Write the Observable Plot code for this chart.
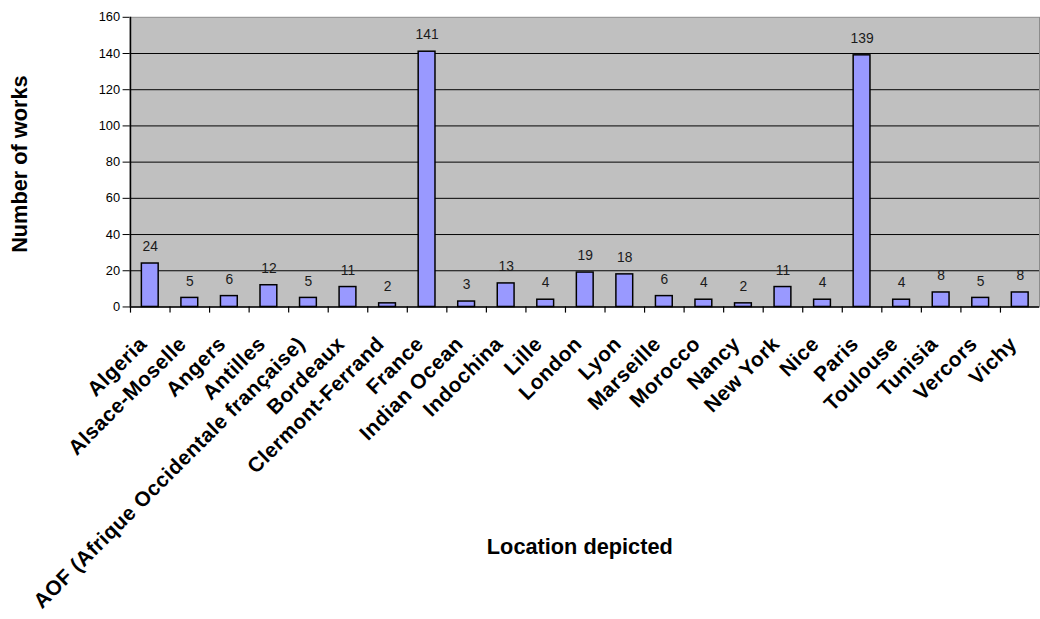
<!DOCTYPE html>
<html>
<head>
<meta charset="utf-8">
<script src="https://cdn.jsdelivr.net/npm/d3@7"></script>
<script src="https://cdn.jsdelivr.net/npm/@observablehq/plot@0.6"></script>
<style>
  html, body { margin: 0; padding: 0; background: #fff; overflow: hidden; }
  #wrap { width: 1040px; height: 619px; overflow: hidden; }
  svg { font-family: "Liberation Sans", Arial, sans-serif; }
</style>
</head>
<body>
<div id="wrap"></div>
<script>
const locations = ["Algeria", "Alsace-Moselle", "Angers", "Antilles", "AOF (Afrique Occidentale française)", "Bordeaux", "Clermont-Ferrand", "France", "Indian Ocean", "Indochina", "Lille", "London", "Lyon", "Marseille", "Morocco", "Nancy", "New York", "Nice", "Paris", "Toulouse", "Tunisia", "Vercors", "Vichy"];
const works = [24, 5, 6, 12, 5, 11, 2, 141, 3, 13, 4, 19, 18, 6, 4, 2, 11, 4, 139, 4, 8, 5, 8];
const yTicks = [0, 20, 40, 60, 80, 100, 120, 140, 160];
const yTitle = "Number of works";
const xTitle = "Location depicted";

const data = locations.map((loc, i) => ({loc, n: works[i]}));

const chart = Plot.plot({
  width: 1052,
  height: 619,
  marginLeft: 131,
  marginRight: 1,
  marginTop: 17,
  marginBottom: 309,
  style: {fontFamily: '"Liberation Sans", Arial, sans-serif', background: "#fff", overflow: "visible"},
  x: {domain: locations, paddingInner: 0.575, paddingOuter: 0.2875},
  y: {domain: [0, 160]},
  marks: [
    Plot.frame({fill: "#c0c0c0", stroke: "#8c8c8c"}),
    Plot.ruleY(yTicks.filter(t => t > 0 && t < 160), {stroke: "#000", strokeWidth: 1}),
    Plot.barY(data, {x: "loc", y: "n", fill: "#9999ff", stroke: "#000", strokeWidth: 1.5}),
    Plot.text(data, {x: "loc", y: "n", text: d => String(d.n), dy: -17, fontSize: 14, fill: "#1a1a1a", lineAnchor: "middle"}),
    Plot.ruleY([0], {stroke: "#000", strokeWidth: 1.5}),
    Plot.ruleX([0], {x: () => locations[0], y1: 0, y2: 160, dx: -20, stroke: "#000", strokeWidth: 1.5}),
    Plot.ruleX(locations, {x: d => d, y1: 0, y2: -3.4, dx: -20, stroke: "#000", strokeWidth: 1.2}),
    Plot.axisY({
      ticks: yTicks, tickSize: 7, tickPadding: 3, fontSize: 13, stroke: "#000", label: null
    }),
    Plot.axisX({
      tickSize: 0, tickPadding: 34, tickRotate: -45, fontSize: 21, fontWeight: "bold",
      dx: -7, label: null
    }),
    Plot.text([yTitle], {frameAnchor: "left", textAnchor: "middle", dx: -111, dy: 2, rotate: -90, fontSize: 22, fontWeight: "bold", fill: "#000", lineAnchor: "middle"}),
    Plot.text([xTitle], {frameAnchor: "bottom", dx: -5, dy: 243, fontSize: 22, fontWeight: "bold", fill: "#000", lineAnchor: "middle"})
  ]
});

chart.querySelectorAll('[aria-label="x-axis tick label"] text').forEach(t => t.setAttribute("letter-spacing", "0.5"));
document.getElementById("wrap").appendChild(chart);
</script>
</body>
</html>
